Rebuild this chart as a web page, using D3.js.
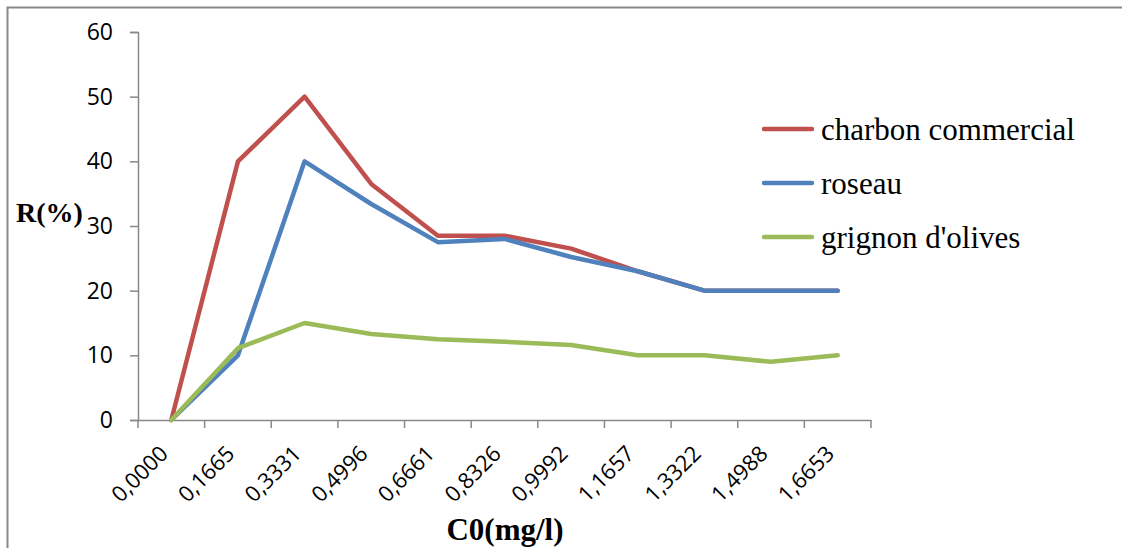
<!DOCTYPE html>
<html><head><meta charset="utf-8">
<script src="https://cdn.jsdelivr.net/npm/d3@7"></script>
<style>body{margin:0;background:#fff}svg{display:block}</style>
</head><body>
<script>
const categories = ["0,0000","0,1665","0,3331","0,4996","0,6661","0,8326","0,9992","1,1657","1,3322","1,4988","1,6653"];
const charbon = [0, 40, 50, 36.5, 28.5, 28.5, 26.5, 23, 20, 20, 20];
const roseau = [0, 10, 40, 33.4, 27.5, 28, 25.2, 23, 20, 20, 20];
const grignon = [0, 11.1, 15, 13.3, 12.5, 12.1, 11.6, 10, 10, 9, 10];
const seriesNames = ["charbon commercial","roseau","grignon d'olives"];
const seriesColors = ["#C0504D","#4F81BD","#9BBB59"];
const yTicks = [0,10,20,30,40,50,60];

const W = 1122, H = 548;
const svg = d3.select("body").append("svg").attr("width", W).attr("height", H);

svg.append("path").attr("d", "M7.5,548V7.5H1122").attr("fill","none").attr("stroke","#888").attr("stroke-width",2);

const x = d3.scaleBand().domain(categories).range([138, 871]);
const y = d3.scaleLinear().domain([0, 60]).range([420, 32]);

// y axis
const ya = svg.append("g").attr("transform","translate(138,0)")
  .attr("font-size", 23).attr("font-family","Open Sans, Liberation Sans, sans-serif")
  .call(d3.axisLeft(y).tickValues(yTicks).tickSize(8).tickPadding(17));
ya.attr("font-size", 23).attr("font-family","Open Sans, Liberation Sans, sans-serif");
ya.select(".domain").attr("stroke","#888").attr("stroke-width",1.5);
ya.selectAll(".tick line").attr("stroke","#888").attr("stroke-width",1.5);
ya.selectAll(".tick text").style("font-size","23px").style("font-family","Open Sans, Liberation Sans, sans-serif").attr("fill","#000");

// x axis
const xa = svg.append("g").attr("transform","translate(0,420)")
  .call(d3.axisBottom(x).tickSize(0).tickFormat(""));
xa.select(".domain").attr("stroke","#888").attr("stroke-width",1.5);
const edges = categories.map(c => x(c)).concat([x.range()[1]]);
svg.append("g").selectAll("line").data(edges).join("line")
  .attr("x1", d=>d).attr("x2", d=>d).attr("y1",420).attr("y2",428)
  .attr("stroke","#888").attr("stroke-width",1.5);
svg.append("g").selectAll("text").data(categories).join("text")
  .attr("transform", d => `translate(${x(d)+x.bandwidth()/2-2},455) rotate(-45)`)
  .attr("text-anchor","end")
  .attr("font-family","Open Sans, Liberation Sans, sans-serif").attr("font-size",22)
  .text(d=>d);

// lines
const data = [charbon, roseau, grignon];
const line = d3.line().x((d,i)=>x(categories[i])+x.bandwidth()/2).y(d=>y(d));
data.forEach((s,k)=>{
  svg.append("path").datum(s).attr("d", line).attr("fill","none")
    .attr("stroke", seriesColors[k]).attr("stroke-width",4.5)
    .attr("stroke-linejoin","round").attr("stroke-linecap","round");
});

// legend
const lg = svg.append("g");
seriesNames.forEach((n,k)=>{
  const yy = 129 + k*54;
  lg.append("line").attr("x1",764).attr("x2",812).attr("y1",yy).attr("y2",yy)
    .attr("stroke",seriesColors[k]).attr("stroke-width",4.5).attr("stroke-linecap","round");
  lg.append("text").attr("x",821).attr("y",yy+11)
    .attr("font-family","Liberation Serif, Times New Roman, serif").attr("font-size",31)
    .text(n);
});

// titles
svg.append("text").attr("x",16).attr("y",222)
  .attr("font-family","Liberation Serif, serif").attr("font-weight","bold").attr("font-size",28).text("R(%)");
svg.append("text").attr("x",505).attr("y",540).attr("text-anchor","middle")
  .attr("font-family","Liberation Serif, serif").attr("font-weight","bold").attr("font-size",31).text("C0(mg/l)");
</script>
</body></html>
